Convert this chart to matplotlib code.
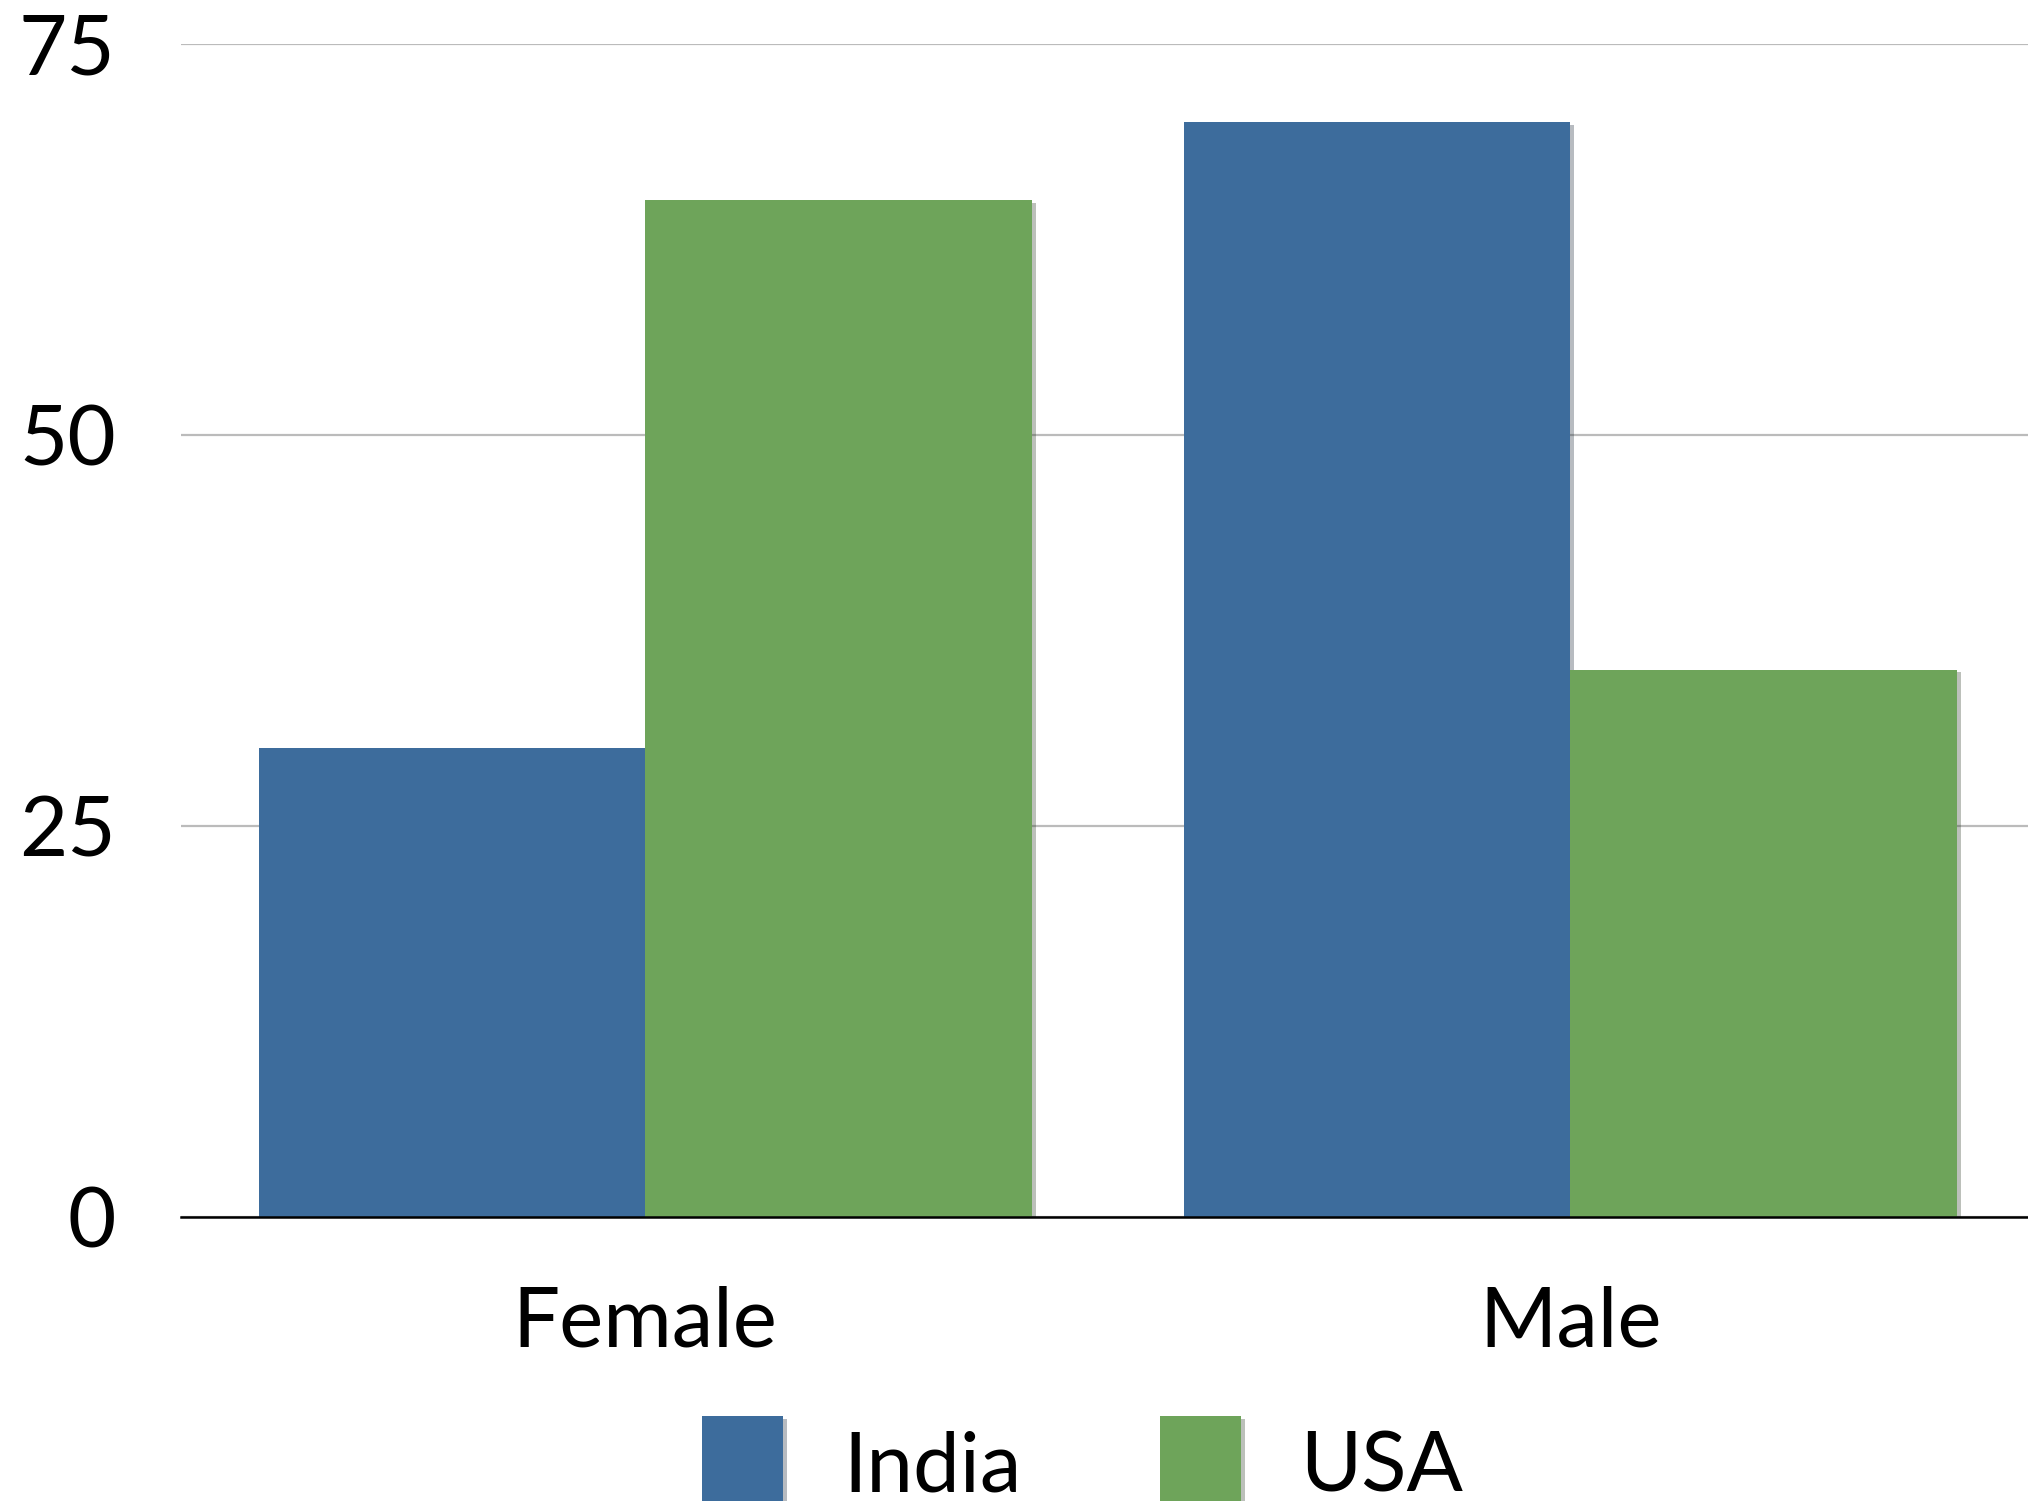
import numpy as np
import matplotlib
matplotlib.use('Agg')
import matplotlib.pyplot as plt
import matplotlib.patheffects as pe

plt.rcParams['font.family'] = ['Lato', 'DejaVu Sans']

categories = ['Female', 'Male']
india = [30, 70]
usa = [65, 35]
yticks = [0, 25, 50, 75]

blue = '#3d6c9c'
green = '#6ea45a'

fig = plt.figure(figsize=(20.28, 15.01), dpi=100)
ax = fig.add_axes([181 / 2028, 1 - 1217 / 1501, 1 - 181 / 2028, (1217 - 44) / 1501])

x = np.arange(len(categories))
w = 0.418
# soft drop shadow like the original chart
shadow = [pe.SimplePatchShadow(offset=(3, -2), alpha=0.3), pe.Normal()]
b1 = ax.bar(x - w / 2, india, w, color=blue, label='India', zorder=3)
b2 = ax.bar(x + w / 2, usa, w, color=green, label='USA', zorder=3)
for b in list(b1) + list(b2):
    b.set_path_effects(shadow)

ax.set_xlim(-0.502, 1.495)
ax.set_ylim(0, 75)
ax.set_yticks(yticks)
ax.set_xticks(x)
ax.set_xticklabels(categories)
ax.grid(axis='y', color='#bbbbbb', linewidth=1.6, zorder=0)
for s in ['top', 'right', 'left']:
    ax.spines[s].set_visible(False)
ax.spines['bottom'].set_linewidth(1.8)
ax.spines['bottom'].set_zorder(4)
ax.tick_params(axis='both', length=0, labelsize=60)
ax.tick_params(axis='y', pad=47)
ax.tick_params(axis='x', pad=49)

fig.legend(handles=[b1, b2], labels=['India', 'USA'], loc='upper center',
           bbox_to_anchor=(0.534, 1 - 1419 / 1501 + 0.002), ncol=2, frameon=False,
           fontsize=60, handlelength=0.97, handleheight=1.4, handletextpad=0.72,
           columnspacing=1.66, borderpad=0, borderaxespad=0)

fig.savefig('out.png', dpi=100)
